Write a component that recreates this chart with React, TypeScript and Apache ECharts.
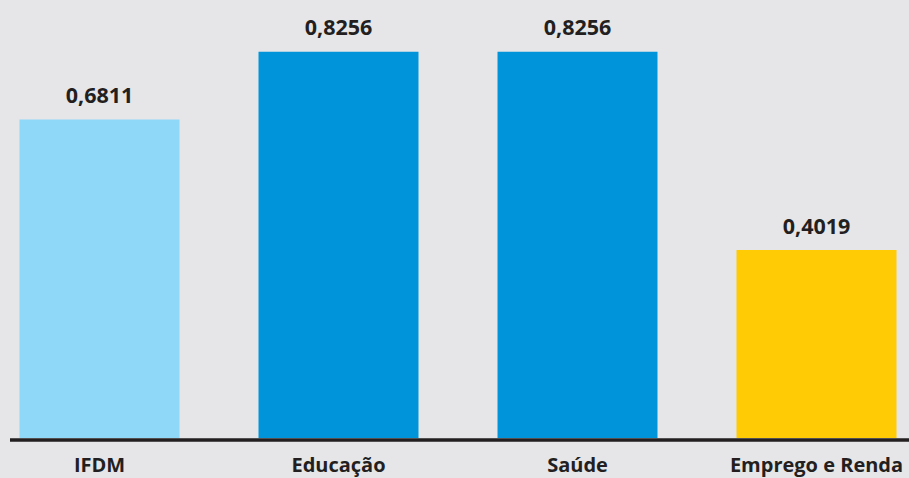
import React, { useEffect, useRef } from "react";
import * as echarts from "echarts";

const categories = ["IFDM", "Educação", "Saúde", "Emprego e Renda"];
const values = [0.6811, 0.8256, 0.8256, 0.4019];
const barColors = ["#8fd8f8", "#0095da", "#0095da", "#ffcb05"];

export default function App() {
  const ref = useRef<HTMLDivElement>(null);
  useEffect(() => {
    if (!ref.current) return;
    const chart = echarts.init(ref.current, null, { renderer: "svg" });
    chart.setOption({
      animation: false,
      backgroundColor: "#e6e6e8",
      textStyle: { fontFamily: "Open Sans" },
      grid: { left: 99.5, right: 92.5, top: 17, bottom: 40, containLabel: false },
      xAxis: {
        type: "category",
        data: categories,
        boundaryGap: false,
        axisLine: { show: false },
        axisTick: { show: false },
        splitLine: { show: false },
        axisLabel: {
          color: "#231f20",
          fontFamily: "Open Sans",
          fontWeight: "bold",
          fontSize: 20,
          margin: 16,
          interval: 0,
        },
      },
      yAxis: {
        type: "value",
        min: 0,
        max: 0.9,
        show: false,
        splitLine: { show: false },
      },
      series: [
        {
          type: "bar",
          barWidth: 160,
          data: values.map((v, i) => ({ value: v, itemStyle: { color: barColors[i] } })),
          label: {
            show: true,
            position: "top",
            distance: 14,
            color: "#231f20",
            fontFamily: "Open Sans",
            fontWeight: "bold",
            fontSize: 21.5,
            formatter: (p: any) => Number(p.value).toFixed(4).replace(".", ","),
          },
        },
      ],
      graphic: [
        {
          type: "line",
          z: 100,
          shape: { x1: 10, y1: 440, x2: 909, y2: 440 },
          style: { stroke: "#231f20", lineWidth: 3.5 },
        },
      ],
    });
    return () => chart.dispose();
  }, []);
  return (
    <div
      ref={ref}
      style={{ position: "fixed", left: 0, top: 0, width: 909, height: 478 }}
    />
  );
}
